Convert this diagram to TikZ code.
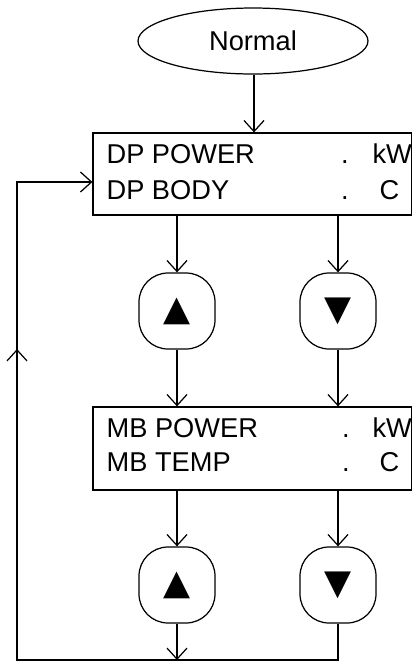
\documentclass[tikz,border=0pt]{standalone}
\usepackage{fontspec}
\setmainfont{Liberation Sans}
\newfontfamily\symfont{DejaVu Sans}
\usetikzlibrary{positioning,calc,arrows.meta,shapes.geometric}

\begin{document}
\begin{tikzpicture}[font=\fontsize{15.5}{18}\selectfont,line width=0.7pt,
  arr/.style={-{Straight Barb[length=2.2mm,width=4mm,line width=0.7pt]}},
  state/.style={draw,ellipse,minimum width=4.6cm,minimum height=1.32cm,inner sep=0pt},
  disp/.style={draw,minimum width=6.38cm,minimum height=1.64cm,inner sep=0pt},
  key/.style={draw,rounded corners=0.58cm,minimum width=1.52cm,minimum height=1.52cm,inner sep=0pt,font=\symfont\fontsize{20}{20}\selectfont},
  lbl/.style={anchor=base west,inner sep=0pt}]
  \useasboundingbox (0,0) rectangle (8.24,-13.24);

  \node[state] (N) at (5.06,-0.82) {Normal};

  \node[disp] (dp) at (5.05,-3.48) {};
  \node[lbl] (dpA) at (2.12,-3.26) {DP POWER};
  \node[lbl] (dpB) at (2.12,-3.98) {DP BODY};
  \node[lbl] (dpAd) at (6.81,-3.26) {.};
  \node[lbl] (dpBd) at (6.81,-3.98) {.};
  \node[lbl] (dpAu) at (7.44,-3.26) {kW};
  \node[lbl] (dpBu) at (7.58,-3.98) {C};

  \node[key] (up1) at (3.54,-6.22) {▲};
  \node[key] (dn1) at (6.76,-6.22) {▼};

  \node[disp,minimum height=1.66cm] (mb) at (5.05,-8.97) {};
  \node[lbl] (mbA) at (2.12,-8.74) {MB POWER};
  \node[lbl] (mbB) at (2.12,-9.42) {MB TEMP};
  \node[lbl] (mbAd) at (6.83,-8.74) {.};
  \node[lbl] (mbBd) at (6.83,-9.42) {.};
  \node[lbl] (mbAu) at (7.44,-8.74) {kW};
  \node[lbl] (mbBu) at (7.58,-9.42) {C};

  \node[key] (up2) at (3.54,-11.70) {▲};
  \node[key] (dn2) at (6.76,-11.70) {▼};

  \coordinate (bl) at (0.34,-13.2);
  \coordinate (mid) at (0.34,-6.98);
  \coordinate (back) at (0.34,-3.64);

  % display to keys and on
  \draw[arr] (N.south -| 5.08,0) -- (dp.north -| 5.08,0);
  \draw[arr] (dp.south -| up1) -- (up1.north);
  \draw[arr] (dp.south -| dn1) -- (dn1.north);
  \draw[arr] (up1.south) -- (mb.north -| up1);
  \draw[arr] (dn1.south) -- (mb.north -| dn1);
  \draw[arr] (mb.south -| up2) -- (up2.north);
  \draw[arr] (mb.south -| dn2) -- (dn2.north);
  \draw[arr] (up2.south) -- (bl -| up2);

  % loop back
  \draw (dn2.south) |- (bl) -- (mid);
  \draw[arr] (bl) -- (mid);
  \draw[arr] (mid) -- (back) -- (back -| dp.west);
\end{tikzpicture}
\end{document}
